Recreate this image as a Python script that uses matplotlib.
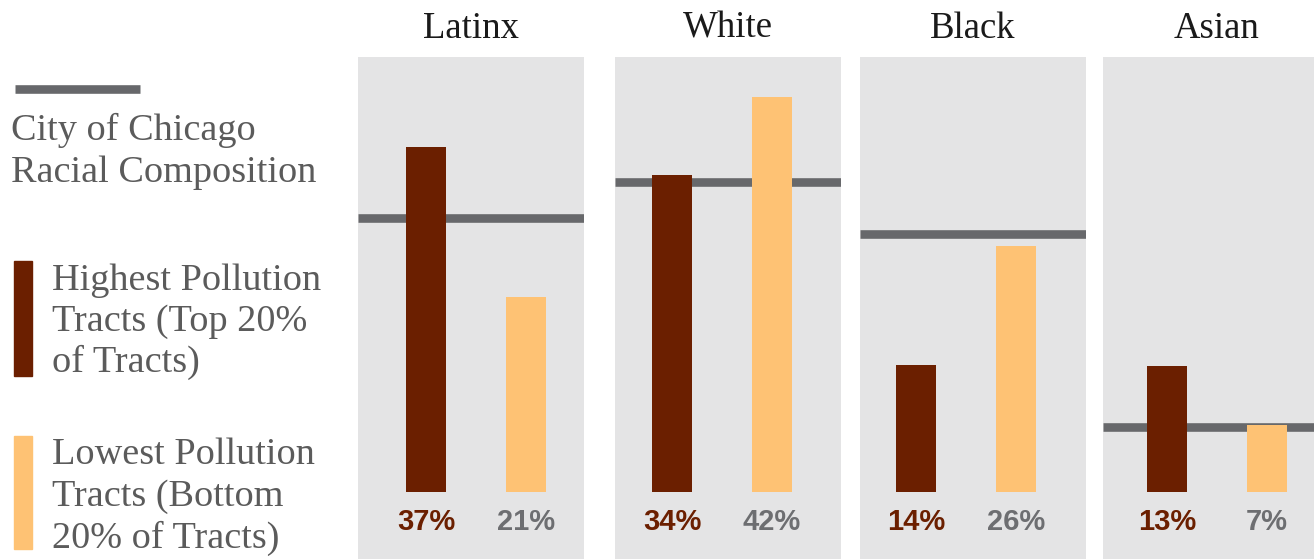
import matplotlib.pyplot as plt

# data
groups = ['Latinx', 'White', 'Black', 'Asian']
highest = [37.0, 34.0, 13.6, 13.5]       # highest pollution tracts (%)
lowest = [20.9, 42.4, 26.4, 7.2]         # lowest pollution tracts (%)
city = [29.4, 33.3, 27.7, 7.0]           # city of Chicago racial composition (%)
highest_labels = ['37%', '34%', '14%', '13%']
lowest_labels = ['21%', '42%', '26%', '7%']

legend_city = 'City of Chicago\nRacial Composition'
legend_high = 'Highest Pollution\nTracts (Top 20%\nof Tracts)'
legend_low = 'Lowest Pollution\nTracts (Bottom\n20% of Tracts)'

# colours
dark = '#6B1F00'
light = '#FEC274'
panel = '#E4E4E5'
line_col = '#67686B'
text_gray = '#5B5B5B'
label_gray = '#6D6E71'

W, H = 1314, 559
fig = plt.figure(figsize=(W / 100, H / 100), dpi=100)
fig.patch.set_facecolor('white')

serif = ['Liberation Serif', 'DejaVu Serif']
sans = ['Liberation Sans', 'DejaVu Sans']


def fx(px):
    return px / W


def fy(py):
    return 1 - py / H


# panel layout in pixels
panel_left = [358, 615, 860, 1103]
panel_w = 226
panel_top = 57
base_y = 492          # pixel row of value 0
px_per_pct = 9.32
first_bar = [68, 57, 56, 64]   # px from panel left to first bar centre

ymin = -(H - base_y) / px_per_pct
ymax = (base_y - panel_top) / px_per_pct
label_y = -(530 - base_y) / px_per_pct

for i, g in enumerate(groups):
    ax = fig.add_axes([fx(panel_left[i]), 0, fx(panel_w), (H - panel_top) / H])
    ax.set_facecolor(panel)
    left = -first_bar[i] / 100
    ax.set_xlim(left, left + panel_w / 100)
    ax.set_ylim(ymin, ymax)
    ax.bar([0, 1], [highest[i], lowest[i]], width=0.4, color=[dark, light], zorder=2)
    ax.axhline(city[i], color=line_col, lw=6.2, solid_capstyle='butt', zorder=1)
    ax.text(0, label_y, highest_labels[i], ha='center', va='baseline', fontsize=21,
            fontweight='bold', color=dark, family=sans)
    ax.text(1, label_y, lowest_labels[i], ha='center', va='baseline', fontsize=21,
            fontweight='bold', color=label_gray, family=sans)
    for s in ax.spines.values():
        s.set_visible(False)
    ax.set_xticks([])
    ax.set_yticks([])
    fig.text(fx(panel_left[i] + panel_w / 2), fy(38), g, ha='center', va='baseline',
             fontsize=26.5, color='#1A1A1A', family=serif)

# legend: city line
fig.add_artist(plt.Line2D([fx(15), fx(140)], [fy(89), fy(89)], color=line_col,
                          lw=6.2, solid_capstyle='butt'))
for k, line in enumerate(legend_city.split('\n')):
    fig.text(fx(11), fy(140 + 42 * k), line, ha='left', va='baseline',
             fontsize=27.5, color=text_gray, family=serif)

# legend: swatches
fig.add_artist(plt.Rectangle((fx(14), fy(376)), fx(18), (376 - 261) / H, color=dark))
fig.add_artist(plt.Rectangle((fx(14), fy(549)), fx(18), (549 - 436) / H, color=light))
for k, line in enumerate(legend_high.split('\n')):
    fig.text(fx(52), fy(290 + 41 * k), line, ha='left', va='baseline',
             fontsize=27.5, color=text_gray, family=serif)
for k, line in enumerate(legend_low.split('\n')):
    fig.text(fx(52), fy(464 + 42 * k), line, ha='left', va='baseline',
             fontsize=27.5, color=text_gray, family=serif)

fig.savefig('out.png', dpi=100)
